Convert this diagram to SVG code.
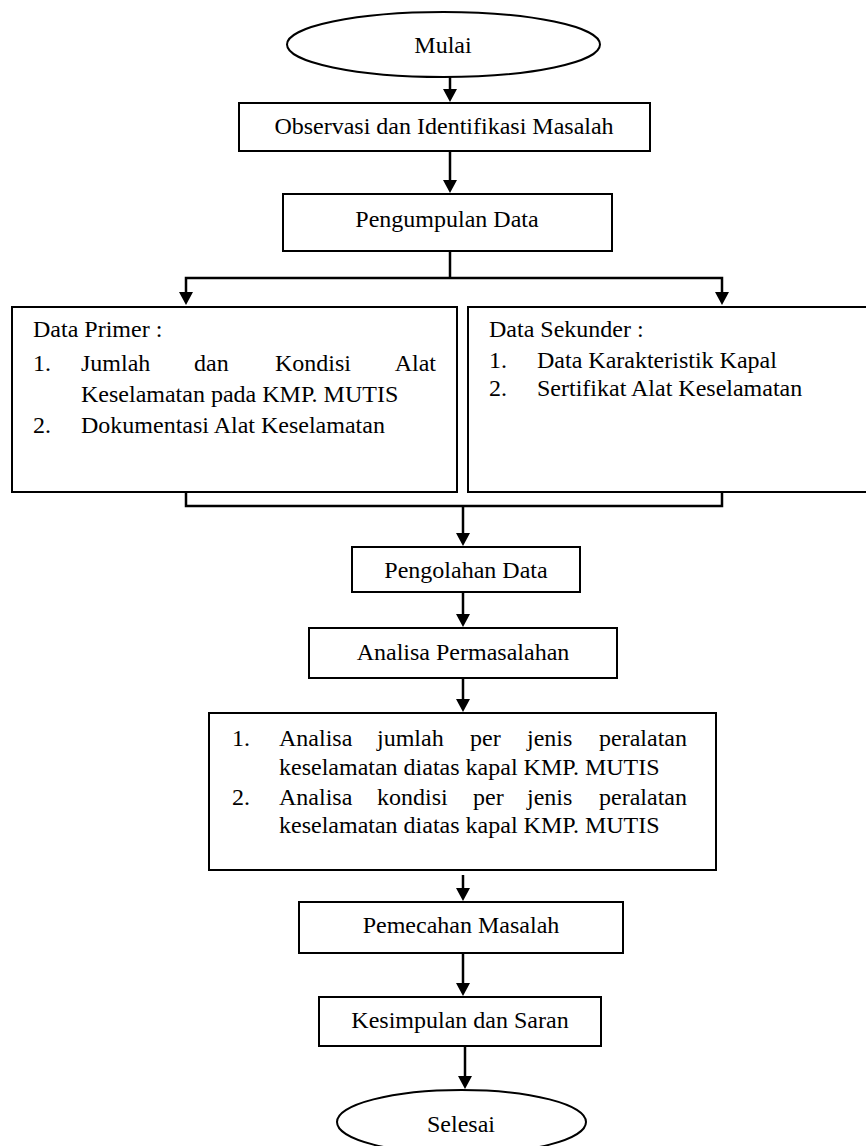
<svg xmlns="http://www.w3.org/2000/svg" width="866" height="1146" viewBox="0 0 866 1146">
<defs>
<style>
.box{fill:#fff;stroke:#000;stroke-width:2}
.t{font-family:"Liberation Serif","Times New Roman",serif;font-size:24px;fill:#000}
.c{text-anchor:middle}
.ln{fill:none;stroke:#000;stroke-width:2.5}
</style>
</defs>
<rect width="866" height="1146" fill="#fff"/>
<g id="connectors">
<line class="ln" x1="450" y1="77" x2="450" y2="92"/>
<line class="ln" x1="450" y1="151" x2="450" y2="183"/>
<line class="ln" x1="450" y1="251" x2="450" y2="278"/>
<polyline class="ln" points="186,295 186,278 722,278 722,295"/>
<polyline class="ln" points="186,492 186,506 722,506 722,492"/>
<line class="ln" x1="463" y1="506" x2="463" y2="536"/>
<line class="ln" x1="463" y1="592" x2="463" y2="617"/>
<line class="ln" x1="463" y1="678" x2="463" y2="702"/>
<line class="ln" x1="463" y1="875" x2="463" y2="891"/>
<line class="ln" x1="463" y1="953" x2="463" y2="986"/>
<line class="ln" x1="465" y1="1046" x2="465" y2="1079"/>
<g fill="#000">
<path d="M443,89 L457,89 L450,102 Z"/>
<path d="M443,180 L457,180 L450,193 Z"/>
<path d="M179,292 L193,292 L186,305 Z"/>
<path d="M715,292 L729,292 L722,305 Z"/>
<path d="M456,533 L470,533 L463,546 Z"/>
<path d="M456,614 L470,614 L463,627 Z"/>
<path d="M456,699 L470,699 L463,712 Z"/>
<path d="M456,888 L470,888 L463,901 Z"/>
<path d="M456,983 L470,983 L463,996 Z"/>
<path d="M458,1076 L472,1076 L465,1089 Z"/>
</g>
</g>
<g id="mulai">
<ellipse class="box" cx="443.5" cy="44.5" rx="156.5" ry="32.5"/>
<text class="t c" x="443" y="53">Mulai</text>
</g>
<g id="observasi">
<rect class="box" x="239" y="103" width="411" height="48"/>
<text class="t c" x="444" y="134">Observasi dan Identifikasi Masalah</text>
</g>
<g id="pengumpulan">
<rect class="box" x="283" y="194" width="329" height="57"/>
<text class="t c" x="447" y="227">Pengumpulan Data</text>
</g>
<g id="primer">
<rect class="box" x="12" y="307" width="445" height="185"/>
<text class="t" x="33" y="337">Data Primer :</text>
<text class="t" x="33" y="371">1.</text>
<text class="t" x="81" y="371">Jumlah</text>
<text class="t" x="194" y="371">dan</text>
<text class="t" x="275" y="371">Kondisi</text>
<text class="t" x="436" y="371" text-anchor="end">Alat</text>
<text class="t" x="81" y="402">Keselamatan pada KMP. MUTIS</text>
<text class="t" x="33" y="433">2.</text>
<text class="t" x="81" y="433">Dokumentasi Alat Keselamatan</text>
</g>
<g id="sekunder">
<rect class="box" x="468" y="307" width="402" height="185"/>
<text class="t" x="489" y="337">Data Sekunder :</text>
<text class="t" x="489" y="368">1.</text>
<text class="t" x="537" y="368">Data Karakteristik Kapal</text>
<text class="t" x="489" y="396">2.</text>
<text class="t" x="537" y="396">Sertifikat Alat Keselamatan</text>
</g>
<g id="pengolahan">
<rect class="box" x="352" y="547" width="228" height="45"/>
<text class="t c" x="466" y="578">Pengolahan Data</text>
</g>
<g id="analisa">
<rect class="box" x="309" y="628" width="308" height="50"/>
<text class="t c" x="463" y="660">Analisa Permasalahan</text>
</g>
<g id="analisa-list">
<rect class="box" x="209" y="713" width="507" height="157"/>
<text class="t" x="232" y="746">1.</text>
<text class="t" x="279" y="746">Analisa</text>
<text class="t" x="377" y="746">jumlah</text>
<text class="t" x="470" y="746">per</text>
<text class="t" x="527" y="746">jenis</text>
<text class="t" x="687" y="746" text-anchor="end">peralatan</text>
<text class="t" x="279" y="775">keselamatan diatas kapal KMP. MUTIS</text>
<text class="t" x="232" y="805">2.</text>
<text class="t" x="279" y="805">Analisa</text>
<text class="t" x="377" y="805">kondisi</text>
<text class="t" x="473" y="805">per</text>
<text class="t" x="527" y="805">jenis</text>
<text class="t" x="687" y="805" text-anchor="end">peralatan</text>
<text class="t" x="279" y="833">keselamatan diatas kapal KMP. MUTIS</text>
</g>
<g id="pemecahan">
<rect class="box" x="299" y="902" width="324" height="51"/>
<text class="t c" x="461" y="933">Pemecahan Masalah</text>
</g>
<g id="kesimpulan">
<rect class="box" x="319" y="997" width="282" height="49"/>
<text class="t c" x="460" y="1028">Kesimpulan dan Saran</text>
</g>
<g id="selesai">
<ellipse class="box" cx="461.5" cy="1122" rx="124.5" ry="32"/>
<text class="t c" x="461" y="1132">Selesai</text>
</g>
</svg>
